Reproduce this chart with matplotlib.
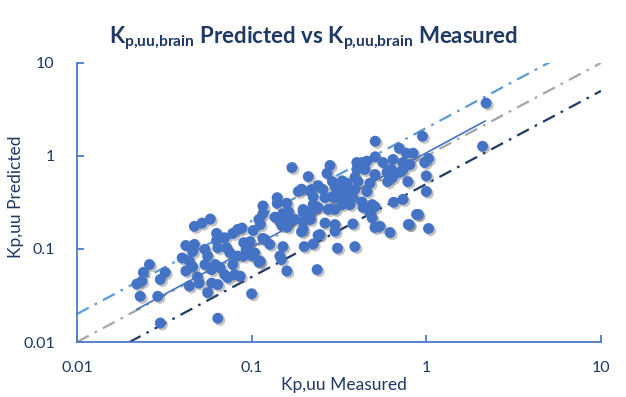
import matplotlib

matplotlib.use("Agg")
import matplotlib.pyplot as plt
import matplotlib.patheffects as pe
from matplotlib.ticker import FixedLocator, FixedFormatter
import numpy as np

# measured vs predicted Kp,uu,brain
X_MEASURED = [
    0.047, 0.052, 0.058, 0.042, 0.047, 0.046, 0.040, 0.044, 0.054, 0.056,
    0.042, 0.046, 0.054, 0.059, 0.049, 0.044, 0.050, 0.056, 0.059, 0.026,
    0.024, 0.0235, 0.022, 0.032, 0.030, 0.023, 0.029, 0.030, 0.064, 0.100,
    0.064, 0.073, 0.086, 0.170, 0.211, 0.185, 0.216, 0.24, 0.14, 0.14,
    0.159, 0.116, 0.116, 0.151, 0.163, 0.197, 0.21, 0.225, 0.11, 0.136,
    0.145, 0.159, 0.177, 0.216, 0.112, 0.149, 0.16, 0.197, 0.088, 0.083,
    0.102, 0.078, 0.063, 0.070, 0.09, 0.098, 0.116, 0.127, 0.063, 0.064,
    0.072, 0.075, 0.083, 0.093, 0.104, 0.101, 0.11, 0.151, 0.145, 0.148,
    0.159, 0.2, 0.225, 0.24, 0.062, 0.066, 0.078, 0.09, 0.070, 0.080,
    0.237, 0.51, 0.70, 0.77, 0.84, 0.51, 0.565, 0.645, 0.735, 0.806,
    0.281, 0.40, 0.428, 0.457, 0.27, 0.40, 0.445, 0.508, 0.596, 0.64,
    0.706, 0.735, 0.39, 0.406, 0.476, 0.60, 0.784, 0.29, 0.33, 0.35,
    0.30, 0.32, 0.35, 0.39, 0.457, 0.256, 0.22, 0.193, 0.225, 0.263,
    0.29, 0.32, 0.355, 0.38, 0.428, 0.49, 0.508, 0.65, 0.735, 0.225,
    0.24, 0.274, 0.30, 0.33, 0.365, 0.434, 0.476, 0.49, 0.543, 0.508,
    0.62, 0.79, 0.88, 0.197, 0.216, 0.197, 0.263, 0.30, 0.30, 0.246,
    0.38, 0.39, 0.31, 2.2, 0.95, 1.03, 0.98, 0.63, 0.62, 1.0,
    1.0, 2.1, 0.9, 0.80, 1.03, 0.119, 0.193, 0.112,
]
Y_PREDICTED = [
    0.175, 0.19, 0.21, 0.109, 0.112, 0.094, 0.080, 0.074, 0.099, 0.084,
    0.058, 0.064, 0.068, 0.060, 0.050, 0.040, 0.043, 0.034, 0.043, 0.068,
    0.056, 0.045, 0.042, 0.056, 0.047, 0.031, 0.031, 0.016, 0.018, 0.033,
    0.0415, 0.049, 0.051, 0.75, 0.60, 0.415, 0.42, 0.48, 0.356, 0.31,
    0.31, 0.29, 0.24, 0.24, 0.25, 0.25, 0.22, 0.266, 0.208, 0.22,
    0.196, 0.196, 0.208, 0.208, 0.183, 0.178, 0.172, 0.162, 0.168, 0.162,
    0.158, 0.147, 0.147, 0.132, 0.117, 0.12, 0.13, 0.112, 0.123, 0.103,
    0.103, 0.091, 0.084, 0.099, 0.091, 0.084, 0.072, 0.106, 0.084, 0.077,
    0.058, 0.106, 0.113, 0.14, 0.068, 0.063, 0.068, 0.084, 0.053, 0.053,
    0.06, 1.44, 1.21, 1.07, 1.07, 0.98, 0.85, 0.917, 0.85, 0.81,
    0.79, 0.85, 0.85, 0.88, 0.65, 0.716, 0.716, 0.632, 0.67, 0.586,
    0.67, 0.716, 0.586, 0.53, 0.51, 0.53, 0.53, 0.53, 0.54, 0.51,
    0.466, 0.436, 0.455, 0.436, 0.414, 0.436, 0.436, 0.44, 0.365, 0.356,
    0.365, 0.365, 0.365, 0.356, 0.32, 0.30, 0.285, 0.318, 0.341, 0.30,
    0.28, 0.266, 0.266, 0.30, 0.30, 0.28, 0.245, 0.215, 0.175, 0.17,
    0.15, 0.183, 0.235, 0.266, 0.222, 0.196, 0.19, 0.183, 0.155, 0.143,
    0.186, 0.106, 0.102, 3.7, 1.63, 0.94, 0.85, 0.716, 0.61, 0.61,
    0.415, 1.27, 0.235, 0.183, 0.166, 0.127, 0.153, 0.074,
]

# power-law trend line  y = coef * x ** slope
TREND_COEF = 1.08
TREND_SLOPE = 1.015
TREND_X = [0.022, 2.17]

# fold-error guide lines (y = factor * x)
FOLD_FACTORS = [2.0, 1.0, 0.5]
FOLD_COLORS = ["#5B9BD5", "#A5A5A5", "#1F3864"]

TICKS = [0.01, 0.1, 1, 10]
TICK_LABELS = ["0.01", "0.1", "1", "10"]

TITLE = (r"K$_\mathregular{p{,}uu{,}brain}$ Predicted vs "
         r"K$_\mathregular{p{,}uu{,}brain}$ Measured")
XLABEL = "Kp,uu Measured"
YLABEL = "Kp,uu Predicted"

plt.rcParams["font.family"] = ["Lato", "DejaVu Sans"]

NAVY = "#1F3864"
SPINE = "#4A7BD0"
DOT = "#4472C4"

fig = plt.figure(figsize=(6.26, 3.97), dpi=100)
ax = fig.add_axes([0.123, 0.1385, 0.837, 0.703])
ax.set_xscale("log")
ax.set_yscale("log")
ax.set_xlim(0.01, 10)
ax.set_ylim(0.01, 10)

guide_x = np.array([0.01, 10.0])
for factor, color in zip(FOLD_FACTORS, FOLD_COLORS):
    ax.plot(guide_x, factor * guide_x, color=color, lw=1.6,
            linestyle=(0, (6, 3, 1.2, 3)), zorder=2)

tx = np.array(TREND_X)
ax.plot(tx, TREND_COEF * tx ** TREND_SLOPE, color=DOT, lw=1.2, zorder=2)

ax.scatter(X_MEASURED, Y_PREDICTED, s=62, color=DOT, edgecolors="none", zorder=3,
           path_effects=[pe.SimplePatchShadow(offset=(1.5, -1.5), shadow_rgbFace="#555555",
                                              alpha=0.35), pe.Normal()])

for side in ("top", "right"):
    ax.spines[side].set_visible(False)
for side in ("left", "bottom"):
    ax.spines[side].set_color(SPINE)
    ax.spines[side].set_linewidth(1.3)

for axis in (ax.xaxis, ax.yaxis):
    axis.set_major_locator(FixedLocator(TICKS))
    axis.set_major_formatter(FixedFormatter(TICK_LABELS))
    axis.set_minor_locator(FixedLocator([]))
ax.tick_params(which="major", direction="in", length=5, width=1.3, color=SPINE,
               labelcolor=NAVY, labelsize=11.5)
ax.tick_params(axis="x", pad=13.5)
ax.tick_params(axis="y", pad=16)

fig.text(0.5, 0.905, TITLE, ha="center", va="center", fontsize=16, fontweight="bold",
         color=NAVY)
fig.text(344 / 626, 1 - 385 / 397, XLABEL, ha="center", va="center", fontsize=12.5,
         color=NAVY)
fig.text(16 / 626, 1 - 197 / 397, YLABEL, ha="center", va="center", rotation=90,
         fontsize=12.5, color=NAVY)

fig.savefig("out.png", dpi=100)
